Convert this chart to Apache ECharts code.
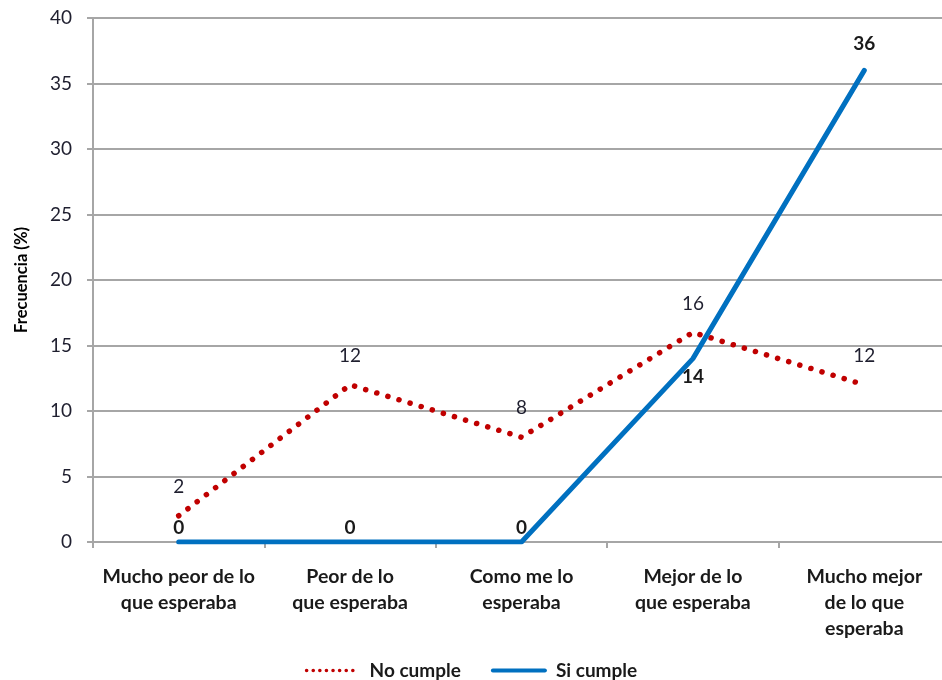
<!DOCTYPE html>
<html>
<head>
<meta charset="utf-8">
<script src="https://cdn.jsdelivr.net/npm/echarts@6/dist/echarts.min.js"></script>
<style>
  html, body { margin: 0; padding: 0; background: #fff; }
  #chart { width: 942px; height: 680px; }
</style>
</head>
<body>
<div id="chart"></div>
<script>
// Satisfaction categories (x axis)
const categories = [
  'Mucho peor de lo\nque esperaba',
  'Peor de lo\nque esperaba',
  'Como me lo\nesperaba',
  'Mejor de lo\nque esperaba',
  'Mucho mejor\nde lo que\nesperaba'
];
// Frequency (%) per group
const noCumple = [2, 12, 8, 16, 12];
const siCumple = [0, 0, 0, 14, 36];
// Label placement overrides for "Si cumple" points (by index)
const siCumpleLabelPlacement = { 3: ['bottom', 8], 4: ['top', 17] };

const font = 'Lato, "Open Sans", sans-serif';
const red = '#c00000';
const blue = '#0070c0';
const chart = echarts.init(document.getElementById('chart'));

chart.setOption({
  backgroundColor: '#ffffff',
  animation: false,
  // plot area runs slightly past the right edge of the canvas
  grid: {
    left: 93, width: 857, top: 18, bottom: 138,
    containLabel: false, outerBoundsMode: 'none'
  },
  legend: {
    top: 656,
    left: 'center',
    itemWidth: 52,
    itemHeight: 14,
    itemGap: 30,
    textStyle: {
      fontFamily: font, fontWeight: 'bold', fontSize: 19, color: '#1a1a1a',
      padding: [0, 0, 0, 6]
    },
    data: [
      { name: 'No cumple', itemStyle: { color: 'transparent' },
        lineStyle: { color: red, width: 3.5, type: [0.1, 6.5], cap: 'round' } },
      { name: 'Si cumple', itemStyle: { color: 'transparent' },
        lineStyle: { color: blue, width: 4 } }
    ]
  },
  xAxis: {
    type: 'category',
    data: categories,
    boundaryGap: true,
    axisLine: { lineStyle: { color: '#a6a6a6', width: 2 } },
    axisTick: { show: true, length: 6, lineStyle: { color: '#a6a6a6', width: 2 } },
    axisLabel: {
      interval: 0,
      margin: 22,
      fontFamily: font,
      fontWeight: 'bold',
      fontSize: 19.5,
      lineHeight: 26,
      color: '#1a1a1a'
    }
  },
  yAxis: {
    type: 'value',
    min: 0,
    max: 40,
    interval: 5,
    name: 'Frecuencia (%)',
    nameLocation: 'middle',
    nameGap: 63,
    nameTextStyle: { fontFamily: font, fontWeight: 'bold', fontSize: 16.5, color: '#000' },
    axisLine: { show: true, lineStyle: { color: '#a6a6a6', width: 2 } },
    axisTick: { show: true, length: 6, lineStyle: { color: '#a6a6a6', width: 2 } },
    axisLabel: { margin: 21, fontFamily: font, fontSize: 19, color: '#1f1f2f' },
    splitLine: { lineStyle: { color: '#a6a6a6', width: 2 } }
  },
  series: [
    {
      name: 'No cumple',
      type: 'line',
      data: noCumple,
      symbol: 'circle',
      symbolSize: 1,
      itemStyle: { color: 'transparent' },
      lineStyle: { color: red, width: 5.5, type: [0.1, 11.5], cap: 'round' },
      label: {
        show: true,
        position: 'top',
        distance: 19,
        fontFamily: font,
        fontSize: 19,
        color: '#1f1f2f'
      },
      z: 2
    },
    {
      name: 'Si cumple',
      type: 'line',
      data: siCumple.map((v, i) => {
        const p = siCumpleLabelPlacement[i];
        return p ? { value: v, label: { position: p[0], distance: p[1] } } : v;
      }),
      symbol: 'circle',
      symbolSize: 1,
      itemStyle: { color: 'transparent' },
      lineStyle: { color: blue, width: 5, cap: 'round', join: 'round' },
      label: {
        show: true,
        position: 'top',
        distance: 4,
        fontFamily: font,
        fontWeight: 'bold',
        fontSize: 19,
        color: '#1a1a1a'
      },
      z: 3
    }
  ]
});
</script>
</body>
</html>
